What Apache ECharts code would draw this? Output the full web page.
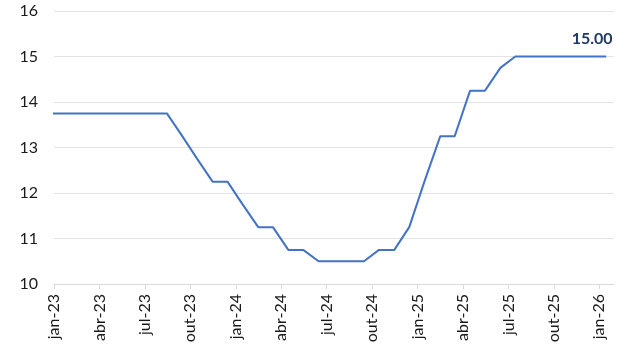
<!DOCTYPE html>
<html>
<head>
<meta charset="utf-8">
<script src="https://cdn.jsdelivr.net/npm/echarts@6/dist/echarts.min.js"></script>
<style>
html,body{margin:0;padding:0;background:#fff;}
#chart{width:635px;height:351px;}
</style>
</head>
<body>
<div id="chart"></div>
<script>
// Axis tick labels (quarterly, starting jan-23)
var tickLabels = ['jan-23','abr-23','jul-23','out-23','jan-24','abr-24','jul-24','out-24','jan-25','abr-25','jul-25','out-25','jan-26'];
// Axis range (dates)
var axisStart = '2023-01-01';
var axisEnd = '2026-01-31';
// Observation dates (mid-month)
var dates = ['2022-12-15',
  '2023-01-15','2023-02-15','2023-03-15','2023-04-15','2023-05-15','2023-06-15',
  '2023-07-15','2023-08-15','2023-09-15','2023-10-15','2023-11-15','2023-12-15',
  '2024-01-15','2024-02-15','2024-03-15','2024-04-15','2024-05-15','2024-06-15',
  '2024-07-15','2024-08-15','2024-09-15','2024-10-15','2024-11-15','2024-12-15',
  '2025-01-15','2025-02-15','2025-03-15','2025-04-15','2025-05-15','2025-06-15',
  '2025-07-15','2025-08-15','2025-09-15','2025-10-15','2025-11-15','2025-12-15',
  '2026-01-15'];
// Rate values (%)
var rates = [13.75,
  13.75,13.75,13.75,13.75,13.75,13.75,
  13.75,13.75,13.25,12.75,12.25,12.25,
  11.75,11.25,11.25,10.75,10.75,10.50,
  10.50,10.50,10.50,10.75,10.75,11.25,
  12.25,13.25,13.25,14.25,14.25,14.75,
  15.00,15.00,15.00,15.00,15.00,15.00,
  15.00];

// convert date string to fractional months since axisStart
function monthPos(s){
  var p = s.split('-').map(Number);
  var b = axisStart.split('-').map(Number);
  var dim = new Date(p[0], p[1], 0).getDate();
  return (p[0]-b[0])*12 + (p[1]-b[1]) + (p[2]-1)/dim;
}
var seriesData = dates.map(function(d,i){ return [monthPos(d), rates[i]]; });
var tickVals = tickLabels.map(function(_,i){ return i*3; });

var chart = echarts.init(document.getElementById('chart'), null, {renderer:'canvas'});
chart.setOption({
  animation:false,
  backgroundColor:'#ffffff',
  grid:{left:54, right:21, top:11, bottom:67, containLabel:false},
  xAxis:{
    type:'value',
    min:monthPos(axisStart),
    max:monthPos(axisEnd),
    interval:3,
    splitLine:{show:false},
    axisLine:{show:true, lineStyle:{color:'#d9d9d9', width:1}},
    axisTick:{show:true, length:5, customValues:tickVals, lineStyle:{color:'#d9d9d9'}},
    axisLabel:{
      customValues:tickVals,
      rotate:90, margin:10,
      fontFamily:'Lato, "Open Sans", sans-serif', fontSize:16, color:'#1a1a1a',
      formatter:function(v){ var i=Math.round(v/3); return tickLabels[i]||''; }
    }
  },
  yAxis:{
    type:'value', min:10, max:16, interval:1,
    axisLine:{show:false}, axisTick:{show:false},
    splitLine:{lineStyle:{color:'#e3e3e3', width:1}},
    axisLabel:{margin:16, fontFamily:'Lato, "Open Sans", sans-serif', fontSize:16, color:'#1a1a1a'}
  },
  series:[{
    type:'line',
    data:seriesData,
    showSymbol:false,
    symbol:'none',
    lineStyle:{color:'#4472c4', width:2},
    markPoint:{
      symbol:'circle', symbolSize:0,
      data:[{coord:seriesData[seriesData.length-1], value:rates[rates.length-1]}],
      label:{
        show:true, position:'top', distance:5, offset:[-14,-5],
        formatter:function(p){ return Number(p.value).toFixed(2); },
        fontFamily:'Lato, "Open Sans", sans-serif', fontWeight:'bold', fontSize:16, color:'#1f3864'
      }
    }
  }]
});
</script>
</body>
</html>
